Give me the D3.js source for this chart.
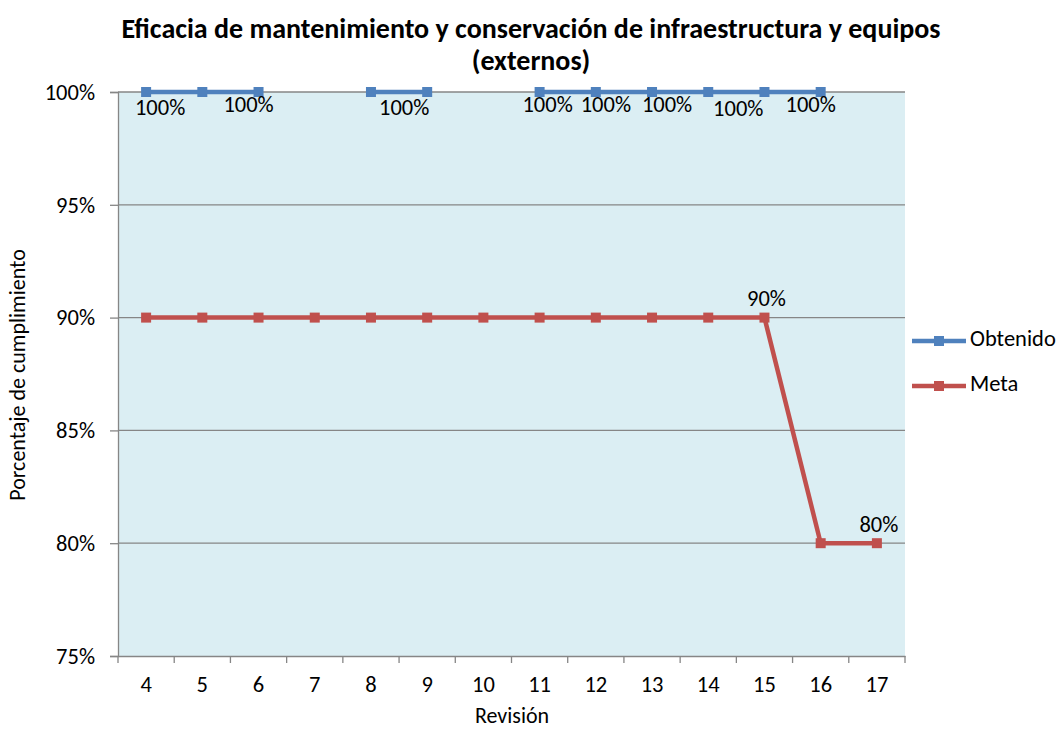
<!DOCTYPE html>
<html><head><meta charset="utf-8">
<script src="https://cdn.jsdelivr.net/npm/d3@7"></script>
<style>body{margin:0;background:#fff}svg{display:block}text{font-family:Carlito,Calibri,Lato,sans-serif;fill:#000}</style>
</head><body>
<script>
const categories = ["4","5","6","7","8","9","10","11","12","13","14","15","16","17"];
const obtenido = [1,1,1,null,1,1,null,1,1,1,1,1,1,null];
const meta = [0.9,0.9,0.9,0.9,0.9,0.9,0.9,0.9,0.9,0.9,0.9,0.9,0.8,0.8];
const yTicks = [0.75,0.80,0.85,0.90,0.95,1.00];
const obtenidoLabelCats = ["4","6","9","11","12","13","14","16"];
const metaLabelCats = ["15","17"];
const titleLines = ["Eficacia de mantenimiento y conservación de infraestructura y equipos","(externos)"];

// label placement tweaks (style, not data)
const obtLabelOffsets = {"4":[14,18],"6":[-10,15],"9":[-23,18],"11":[8,15],"12":[10,15],"13":[15,15],"14":[30,19],"16":[-10,15]};

const W=1063,H=732;
const FS="22.5px";
const m={l:118,r:158,t:92,b:76};
const svg=d3.select("body").append("svg").attr("width",W).attr("height",H);
const x=d3.scaleBand().domain(categories).range([m.l,W-m.r]);
const y=d3.scaleLinear().domain([0.75,1]).range([H-m.b,m.t]);
const cx=c=>x(c)+x.bandwidth()/2;

svg.append("rect").attr("x",m.l).attr("y",m.t).attr("width",W-m.r-m.l).attr("height",H-m.b-m.t).attr("fill","#DBEEF3");

// gridlines
svg.append("g").selectAll("line").data(yTicks.slice(1)).join("line")
 .attr("x1",m.l).attr("x2",W-m.r).attr("y1",d=>y(d)).attr("y2",d=>y(d))
 .attr("stroke","#868686").attr("stroke-width",1.3);

// y axis
const ya=svg.append("g").attr("transform",`translate(${m.l},0)`)
 .call(d3.axisLeft(y).tickValues(yTicks).tickFormat(d3.format(".0%")).tickSize(8).tickPadding(15));
ya.select(".domain").attr("stroke","#868686").attr("stroke-width",1.3);
ya.selectAll(".tick line").attr("stroke","#868686").attr("stroke-width",1.3);
ya.selectAll("text").style("font-size",FS).style("font-family","Carlito,Calibri,Lato,sans-serif").attr("fill","#000");

// x axis
const xa=svg.append("g").attr("transform",`translate(0,${H-m.b})`)
 .call(d3.axisBottom(x).tickSize(0).tickPadding(20));
xa.select(".domain").attr("stroke","#868686").attr("stroke-width",1.3);
xa.selectAll("text").style("font-size",FS).style("font-family","Carlito,Calibri,Lato,sans-serif").attr("fill","#000");
const bounds=categories.map(c=>x(c)).concat([x(categories[categories.length-1])+x.bandwidth()]);
xa.append("g").selectAll("line").data(bounds).join("line")
 .attr("x1",d=>d).attr("x2",d=>d).attr("y1",0).attr("y2",7).attr("stroke","#868686").attr("stroke-width",1.3);

// series
function drawSeries(vals,color){
  const pts=categories.map((c,i)=>({c,v:vals[i]}));
  const line=d3.line().defined(d=>d.v!=null).x(d=>cx(d.c)).y(d=>y(d.v));
  svg.append("path").datum(pts).attr("d",line).attr("fill","none").attr("stroke",color).attr("stroke-width",4.5).attr("stroke-linejoin","round");
  svg.append("g").selectAll("rect").data(pts.filter(d=>d.v!=null)).join("rect")
   .attr("x",d=>cx(d.c)-5).attr("y",d=>y(d.v)-5).attr("width",10).attr("height",10).attr("fill",color);
}
drawSeries(obtenido,"#4F81BD");
drawSeries(meta,"#C0504D");

// data labels
svg.append("g").selectAll("text").data(obtenidoLabelCats).join("text")
 .attr("x",c=>cx(c)+obtLabelOffsets[c][0]).attr("y",c=>y(obtenido[categories.indexOf(c)])+obtLabelOffsets[c][1])
 .attr("text-anchor","middle").attr("dominant-baseline","middle").style("font-size",FS)
 .text(c=>d3.format(".0%")(obtenido[categories.indexOf(c)]));
svg.append("g").selectAll("text").data(metaLabelCats).join("text")
 .attr("x",c=>cx(c)+2).attr("y",c=>y(meta[categories.indexOf(c)])-17)
 .attr("text-anchor","middle").attr("dominant-baseline","middle").style("font-size",FS)
 .text(c=>d3.format(".0%")(meta[categories.indexOf(c)]));

// title
svg.append("g").selectAll("text").data(titleLines).join("text")
 .attr("x",531).attr("y",(d,i)=>31+i*32).attr("text-anchor","middle").attr("dominant-baseline","middle")
 .style("font-size","28px").style("font-weight","bold").text(d=>d);

// axis titles
svg.append("text").attr("x",512).attr("y",718).attr("text-anchor","middle").attr("dominant-baseline","middle").style("font-size","22px").text("Revisión");
svg.append("text").attr("transform","translate(20,375) rotate(-90)").attr("text-anchor","middle").attr("dominant-baseline","middle").style("font-size","22px").text("Porcentaje de cumplimiento");

// legend
const leg=[{n:"Obtenido",c:"#4F81BD"},{n:"Meta",c:"#C0504D"}];
const lg=svg.append("g").selectAll("g").data(leg).join("g").attr("transform",(d,i)=>`translate(912,${341+i*45})`);
lg.append("line").attr("x1",0).attr("x2",54).attr("stroke",d=>d.c).attr("stroke-width",4.5);
lg.append("rect").attr("x",22).attr("y",-5).attr("width",10).attr("height",10).attr("fill",d=>d.c);
lg.append("text").attr("x",58).attr("y",0).attr("dominant-baseline","middle").style("font-size",FS).text(d=>d.n);
</script>
</body></html>
